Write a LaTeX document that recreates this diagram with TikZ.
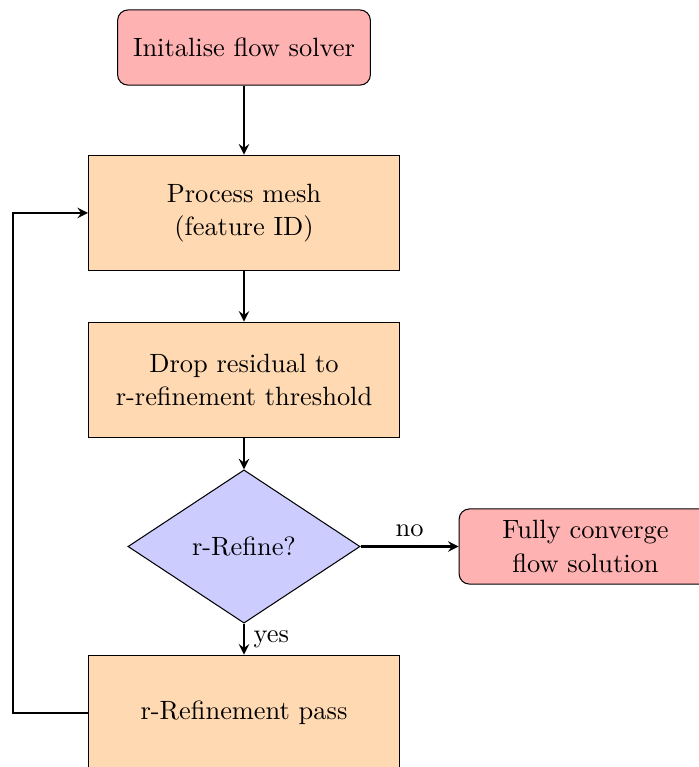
\documentclass[tikz,border=0pt]{standalone}
\usepackage{tikz}
\usetikzlibrary{shapes.geometric,arrows}

\tikzset{
  every node/.style={font=\fontsize{10.2}{12.8}\selectfont},
  startstop/.style={rectangle, rounded corners, minimum width=3.43cm, minimum height=1.02cm, align=center, draw=black, fill=red!30},
  process/.style={rectangle, minimum width=4.22cm, minimum height=1.57cm, align=center, draw=black, fill=orange!30},
  decision/.style={diamond, minimum width=3.15cm, minimum height=2.08cm, inner sep=0pt, align=center, draw=black, fill=blue!20},
  arrow/.style={thick,->,>=stealth}
}

\begin{document}
\begin{tikzpicture}
		\path[use as bounding box, clip] (0,0) rectangle (9.485,-10.408);
		\node (start) at (3.311,-0.645)[startstop]{Initalise flow solver};
		\node (mesh) at (3.311,-2.890)[process]{Process mesh\\(feature ID)};
		\node (drop) at (3.311,-5.157)[process]{Drop residual to\\r-refinement threshold};
		\node (refine) at (3.311,-7.416)[decision]{r-Refine?};
		\node (converge) at (7.945,-7.416)[startstop]{Fully converge\\flow solution};
		\node (pass) at (3.311,-9.675)[process]{r-Refinement pass};
		\coordinate (loop) at (0.176,-9.675);

		\draw[arrow] (start) -- (mesh);
		\draw[arrow] (mesh) -- (drop);
		\draw[arrow] (drop) -- (refine);
		\draw[arrow] (refine) -- node[above]{no} (converge);
		\draw[arrow] (refine) -- node[right]{yes} (pass);
		\draw[arrow] (pass.west) -- (loop) |- (mesh.west);
		\end{tikzpicture}
\end{document}
